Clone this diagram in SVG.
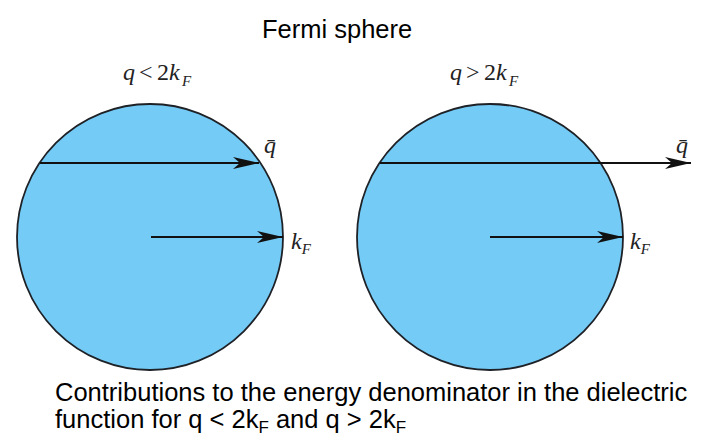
<svg xmlns="http://www.w3.org/2000/svg" width="722" height="444" viewBox="0 0 722 444">
<style>
.sphere{fill:#74cbf6;stroke:#1e2126;stroke-width:1.8}
.vec{stroke:#111;stroke-width:1.8;fill:none;marker-end:url(#ah)}
.math{font-family:"Liberation Serif","Times New Roman",serif;font-size:24px;fill:#222}
.it{font-style:italic}
.sub{font-size:15px;font-style:italic}
.cap{font-family:"Liberation Sans",Arial,sans-serif;font-size:25.5px;fill:#000}
.capsub{font-size:17px}
</style>
<defs>
<marker id="ah" markerUnits="userSpaceOnUse" markerWidth="28" markerHeight="14" refX="26" refY="7" orient="auto">
<path d="M0,1 L26,7 L0,13 L7,7 z" fill="#111"/>
</marker>
</defs>
<rect width="722" height="444" fill="#fff"/>
<text class="cap" x="262" y="38" font-size="25">Fermi sphere</text>
<g id="left-sphere">
<circle class="sphere" cx="150" cy="237" r="133"/>
<text class="math" y="80"><tspan class="it" x="123">q</tspan><tspan x="139">&lt;</tspan><tspan x="157">2</tspan><tspan class="it" x="169">k</tspan><tspan class="sub" x="182" y="86">F</tspan></text>
<text class="math it" x="264" y="153" font-size="24">q̄</text>
<text class="math" x="291" y="249" font-size="25"><tspan class="it">k</tspan><tspan class="sub" dy="5">F</tspan></text>
</g>
<g id="right-sphere">
<circle class="sphere" cx="490" cy="237" r="133"/>
<text class="math" y="80"><tspan class="it" x="450">q</tspan><tspan x="466">&gt;</tspan><tspan x="484">2</tspan><tspan class="it" x="496">k</tspan><tspan class="sub" x="509" y="86">F</tspan></text>
<text class="math it" x="676" y="153" font-size="24">q̄</text>
<text class="math" x="630" y="249" font-size="25"><tspan class="it">k</tspan><tspan class="sub" dy="5">F</tspan></text>
</g>
<g id="connectors">
<line class="vec" x1="40" y1="163" x2="259" y2="163"/>
<line class="vec" x1="151" y1="237" x2="283" y2="237"/>
<line class="vec" x1="380" y1="163" x2="691" y2="163"/>
<line class="vec" x1="490" y1="237" x2="623" y2="237"/>
</g>
<text class="cap" x="55" y="401">Contributions to the energy denominator in the dielectric</text>
<text class="cap" x="55" y="428">function for q &lt; 2k<tspan class="capsub" dy="5">F</tspan><tspan dy="-5"> and q &gt; 2k</tspan><tspan class="capsub" dy="5">F</tspan></text>
</svg>
